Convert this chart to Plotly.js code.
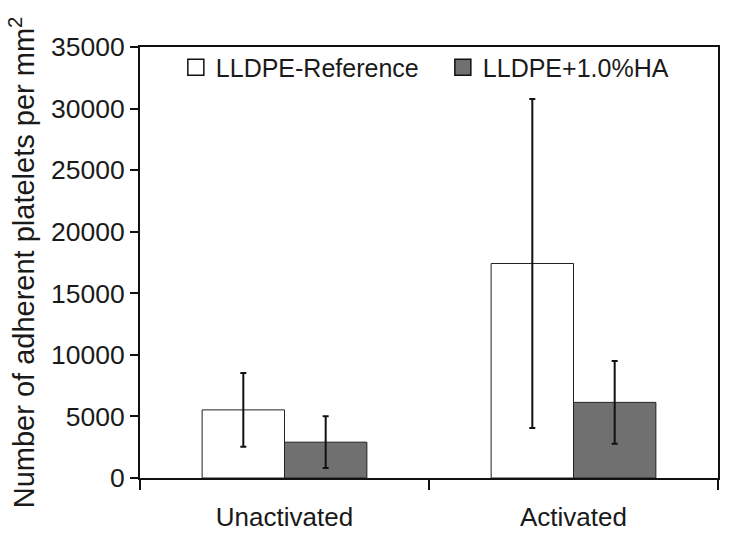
<!DOCTYPE html>
<html>
<head>
<meta charset="utf-8">
<script src="https://cdn.plot.ly/plotly-3.0.1.min.js"></script>
<style>html,body{margin:0;padding:0;background:#fff;}#chart{width:729px;height:537px;}</style>
</head>
<body>
<div id="chart"></div>
<script>
var categories = ["Unactivated", "Activated"];
var seriesNames = ["LLDPE-Reference", "LLDPE+1.0%HA"];
var seriesColors = ["#ffffff", "#707070"];
var referenceValues = [5530, 17420];
var referenceErrors = [3000, 13350];
var haValues = [2910, 6140];
var haErrors = [2100, 3360];
var yTickValues = [0, 5000, 10000, 15000, 20000, 25000, 30000, 35000];

var fontFamily = "Liberation Sans, Arial, Helvetica, sans-serif";
var textColor = "#1a1a1a";

function barTrace(i, values, errors) {
  return {
    type: "bar",
    name: seriesNames[i],
    legendgroup: "g" + i,
    showlegend: false,
    x: categories,
    y: values,
    marker: {color: seriesColors[i], line: {color: "#222222", width: 1}},
    error_y: {type: "data", array: errors, visible: true, color: "#111111", thickness: 2, width: 3},
    hoverinfo: "skip"
  };
}

function legendTrace(i) {
  return {
    type: "scatter",
    mode: "markers",
    name: seriesNames[i],
    legendgroup: "g" + i,
    showlegend: true,
    x: [null],
    y: [null],
    marker: {symbol: "square", size: 20, color: seriesColors[i], line: {color: "#111111", width: 1.5}},
    hoverinfo: "skip"
  };
}

var traces = [
  barTrace(0, referenceValues, referenceErrors),
  barTrace(1, haValues, haErrors),
  legendTrace(0),
  legendTrace(1)
];

var layout = {
  width: 729,
  height: 537,
  margin: {l: 140, r: 11, t: 47, b: 59},
  paper_bgcolor: "#ffffff",
  plot_bgcolor: "#ffffff",
  font: {family: fontFamily, size: 25, color: textColor},
  barmode: "group",
  bargap: 0.43,
  bargroupgap: 0,
  showlegend: true,
  legend: {
    orientation: "h",
    x: 0.062, xanchor: "left",
    y: 1.006, yanchor: "top",
    entrywidth: 222,
    bgcolor: "rgba(0,0,0,0)",
    borderwidth: 0,
    font: {family: fontFamily, size: 25, color: textColor},
    itemclick: false
  },
  xaxis: {
    range: [-0.5, 1.5],
    tickson: "boundaries",
    ticks: "outside",
    ticklen: 10,
    tickwidth: 2,
    tickcolor: "#111111",
    showline: true,
    linecolor: "#111111",
    linewidth: 2,
    mirror: true,
    showgrid: false,
    zeroline: false,
    ticklabelstandoff: 15,
    tickfont: {family: fontFamily, size: 26, color: textColor}
  },
  yaxis: {
    range: [0, 35000],
    tickvals: yTickValues,
    ticktext: yTickValues.map(String),
    ticks: "outside",
    ticklen: 8,
    tickwidth: 2,
    tickcolor: "#111111",
    showline: true,
    linecolor: "#111111",
    linewidth: 2,
    mirror: true,
    showgrid: false,
    zeroline: false,
    tickfont: {family: fontFamily, size: 26.5, color: textColor},
    title: {
      text: "Number of adherent platelets per mm<sup>2</sup>",
      font: {family: fontFamily, size: 29, color: textColor},
      standoff: 8
    }
  }
};

Plotly.newPlot("chart", traces, layout, {staticPlot: true, displayModeBar: false});
</script>
</body>
</html>
